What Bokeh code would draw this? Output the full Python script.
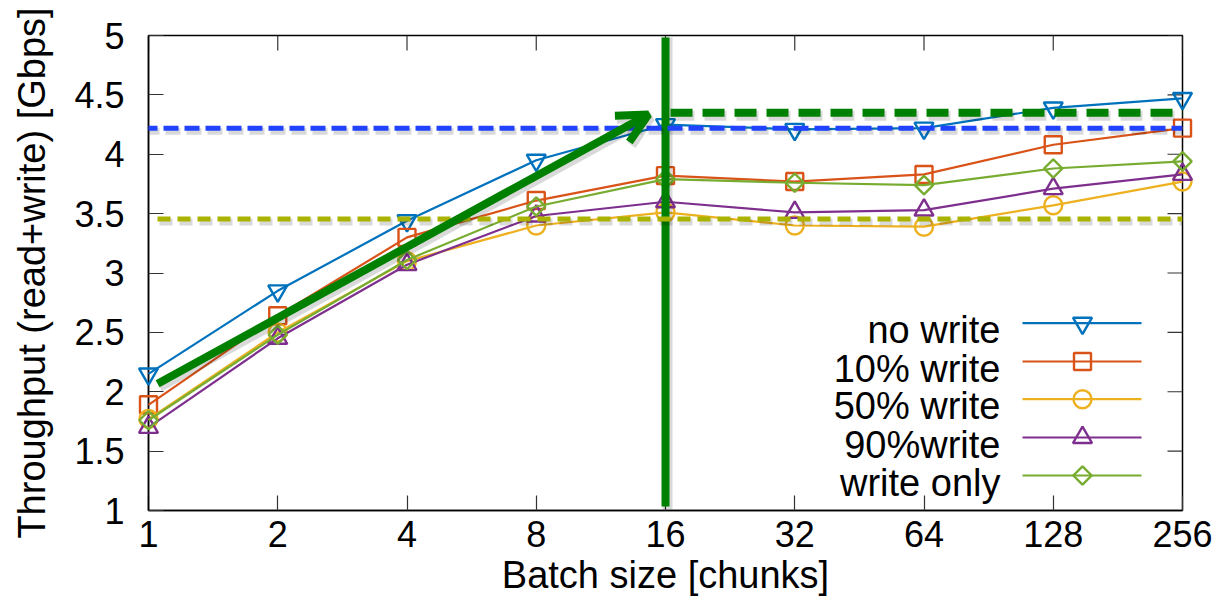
import numpy as np
from bokeh.plotting import figure
from bokeh.models import Arrow, OpenHead, FixedTicker, Range1d
from bokeh.embed import file_html
from bokeh.resources import INLINE
from bokeh.core.properties import value

# ---------------- data ----------------
batch = [1, 2, 4, 8, 16, 32, 64, 128, 256]
xtick_labels = ["1", "2", "4", "8", "16", "32", "64", "128", "256"]

no_write = [2.15, 2.85, 3.44, 3.95, 4.25, 4.21, 4.22, 4.39, 4.47]
write_10 = [1.89, 2.64, 3.30, 3.61, 3.82, 3.77, 3.83, 4.08, 4.22]
write_50 = [1.77, 2.50, 3.10, 3.40, 3.51, 3.40, 3.39, 3.57, 3.77]
write_90 = [1.70, 2.45, 3.07, 3.48, 3.60, 3.51, 3.53, 3.71, 3.83]
write_only = [1.76, 2.48, 3.11, 3.56, 3.79, 3.76, 3.74, 3.88, 3.94]

series_names = ["no write", "10% write", "50% write", "90%write", "write only"]
series_values = [no_write, write_10, write_50, write_90, write_only]

yticks = [1, 1.5, 2, 2.5, 3, 3.5, 4, 4.5, 5]
ytick_labels = ["1", "1.5", "2", "2.5", "3", "3.5", "4", "4.5", "5"]

# annotation levels (Gbps) and batch sizes
blue_level = 4.22
olive_level = 3.455
green_level = 4.35
knee_batch = 16
arrow_start = (1.05, 2.067)   # (batch, Gbps)
arrow_end = (14.6, 4.335)

# ---------------- style ----------------
colors = ["#0072BD", "#D95319", "#EDB120", "#7E2F8E", "#77AC30"]
markers = ["inverted_triangle", "square", "circle", "triangle", "square"]
sizes = [19, 17, 18, 19, 13]
angles = [0, 0, 0, 0, np.pi / 4]
FONT = "Liberation Sans"

W, H = 1222, 600
FL, FR, FT, FB = 148, 1182, 35, 510   # frame edges in pixels
x_lo, x_hi = 0.0, 8.0
y_lo, y_hi = 1.0, 5.0
ppx = (FR - FL) / (x_hi - x_lo)
ppy = (FB - FT) / (y_hi - y_lo)
TICK = 15


def px2x(px):
    return x_lo + (px - FL) / ppx


def px2y(py):
    return y_hi - (py - FT) / ppy


xs = list(np.log2(batch))

p = figure(width=W, height=H, x_range=Range1d(x_lo, x_hi), y_range=Range1d(y_lo, y_hi),
           output_backend="svg", toolbar_location=None,
           min_border_left=FL, min_border_right=W - FR, min_border_top=FT, min_border_bottom=H - FB)
p.xgrid.visible = False
p.ygrid.visible = False
p.outline_line_color = "black"
p.outline_line_width = 1.5
p.background_fill_color = "white"
p.border_fill_color = "white"

for ax in (p.xaxis[0], p.yaxis[0]):
    ax.axis_line_color = "black"
    ax.axis_line_width = 1.5
    ax.major_tick_in = TICK
    ax.major_tick_out = 0
    ax.major_tick_line_color = "#333333"
    ax.major_tick_line_width = 1.2
    ax.minor_tick_line_color = None
    ax.major_label_text_font = FONT
    ax.major_label_text_color = "black"
    ax.major_label_text_font_size = "36px"
    ax.axis_label_text_font = FONT
    ax.axis_label_text_font_style = "normal"
    ax.axis_label_text_color = "black"

p.xaxis.ticker = FixedTicker(ticks=xs)
p.yaxis.ticker = FixedTicker(ticks=yticks)
p.xaxis.major_label_overrides = {float(x): lab for x, lab in zip(xs, xtick_labels)}
p.yaxis.major_label_overrides = {t: lab for t, lab in zip(yticks, ytick_labels)}
p.xaxis.major_label_standoff = 10
p.yaxis.major_label_standoff = 24
p.xaxis.axis_label = "Batch size [chunks]"
p.yaxis.axis_label = "Throughput (read+write) [Gbps]"
p.xaxis.axis_label_text_font_size = "38px"
p.yaxis.axis_label_text_font_size = "38px"
p.xaxis.axis_label_standoff = 4
p.yaxis.axis_label_standoff = 18

# mirrored inner ticks on top and right frame edges
p.segment(x0=xs, y0=[y_hi] * len(xs), x1=xs, y1=[y_hi - TICK / ppy] * len(xs),
          line_color="#333333", line_width=1.2)
p.segment(x0=[x_hi] * len(yticks), y0=yticks, x1=[x_hi - TICK / ppx] * len(yticks), y1=yticks,
          line_color="#333333", line_width=1.2)

# ---------------- series ----------------
for name, vals, c, m, s, a in zip(series_names, series_values, colors, markers, sizes, angles):
    r1 = p.line(xs, vals, line_color=c, line_width=2.2)
    r2 = p.scatter(xs, vals, marker=m, size=s, angle=a, line_color=c, line_width=2.4,
                   fill_alpha=0)
    r1.level = "overlay"
    r2.level = "overlay"

# ---------------- annotations ----------------
SH_DX, SH_DY = 2 / ppx, -3 / ppy
shadow_col = "#000000"


def dashed(x0, x1, yv, color, width, dash):
    sh = Arrow(start=None, end=None, x_start=x0 + SH_DX, x_end=x1 + SH_DX,
               y_start=yv + SH_DY, y_end=yv + SH_DY, line_color=shadow_col,
               line_alpha=0.15, line_width=width + 2, line_dash=dash, level="overlay")
    ln = Arrow(start=None, end=None, x_start=x0, x_end=x1, y_start=yv, y_end=yv,
               line_color=color, line_width=width, line_dash=dash, level="overlay")
    p.add_layout(sh)
    p.add_layout(ln)


x_knee = float(np.log2(knee_batch))

# vertical knee line
p.add_layout(Arrow(start=None, end=None, x_start=x_knee + SH_DX, x_end=x_knee + SH_DX,
                   y_start=px2y(37), y_end=px2y(506) + SH_DY, line_color=shadow_col,
                   line_alpha=0.15, line_width=10, level="overlay"))
p.add_layout(Arrow(start=None, end=None, x_start=x_knee, x_end=x_knee,
                   y_start=px2y(37), y_end=px2y(506), line_color="#008000",
                   line_width=8, level="overlay"))

dashed(px2x(142), x_hi, blue_level, "#2143FF", 5, "15 6")
dashed(px2x(157), x_hi, olive_level, "#A9B300", 5, "13 7")
dashed(x_knee + px2x(FL + 5), px2x(1199), green_level, "#008000", 8, "22 10")

ax0, ay0 = float(np.log2(arrow_start[0])), arrow_start[1]
ax1, ay1 = float(np.log2(arrow_end[0])), arrow_end[1]
p.add_layout(Arrow(x_start=ax0 + SH_DX, y_start=ay0 + SH_DY, x_end=ax1 + SH_DX, y_end=ay1 + SH_DY,
                   line_color=shadow_col, line_alpha=0.15, line_width=10,
                   end=OpenHead(size=30, line_color=shadow_col, line_alpha=0.15, line_width=10),
                   level="overlay"))
p.add_layout(Arrow(x_start=ax0, y_start=ay0, x_end=ax1, y_end=ay1,
                   line_color="#008000", line_width=8,
                   end=OpenHead(size=30, line_color="#008000", line_width=8),
                   level="overlay"))

# ---------------- legend (label left of sample) ----------------
row_px = [322.7, 361.0, 398.7, 437.0, 475.0]
text_right = px2x(1000)
ln_x0, ln_x1, mk_x = px2x(1022), px2x(1141), px2x(1082)
for i, (name, c, m, s, a) in enumerate(zip(series_names, colors, markers, sizes, angles)):
    yv = px2y(row_px[i])
    p.line([ln_x0, ln_x1], [yv, yv], line_color=c, line_width=2.2)
    p.scatter([mk_x], [yv], marker=m, size=s, angle=a, line_color=c, line_width=2.4, fill_alpha=0)
    p.text([text_right], [px2y(row_px[i] + 7)], text=[name], text_align="right",
           text_baseline="alphabetic", text_font=value(FONT), text_font_size="38px",
           text_color="black")

open("out.html", "w").write(file_html(p, INLINE))
